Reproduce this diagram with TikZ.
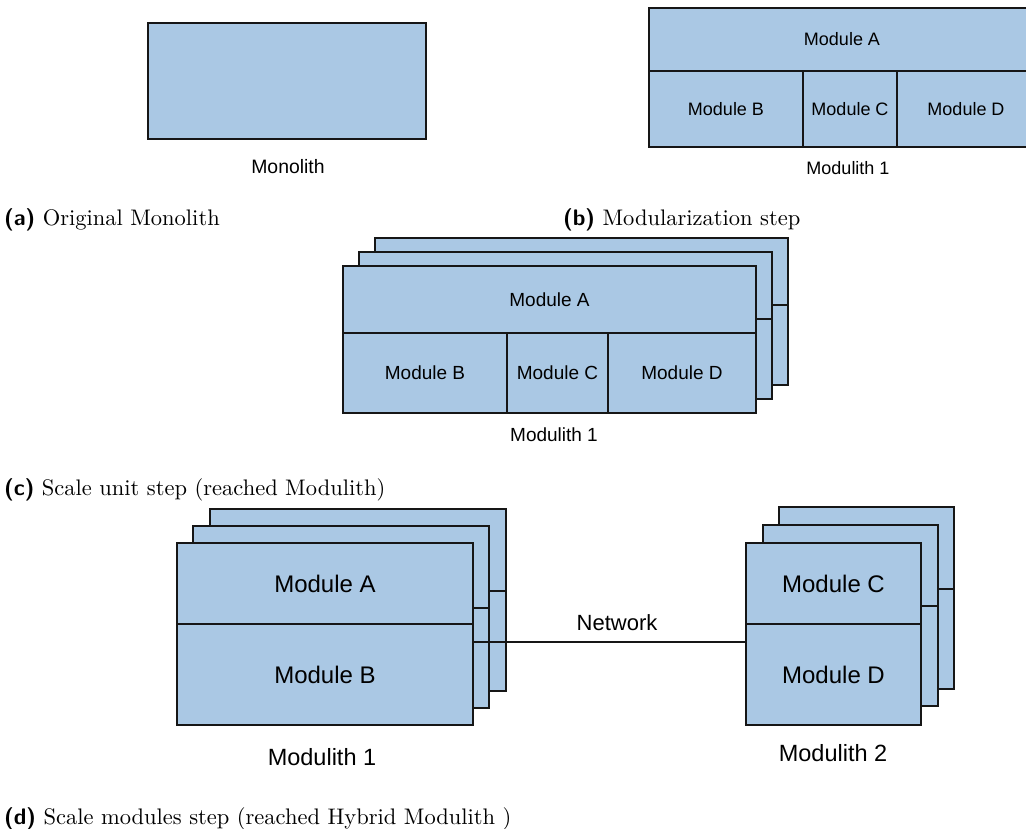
\documentclass[tikz,border=0pt]{standalone}
\usepackage{fontspec}
\usepackage{graphicx}
\newfontfamily\diagfont{Liberation Sans}
\definecolor{modfill}{RGB}{170,200,228}
\definecolor{edgec}{RGB}{22,22,22}
% sub-figure caption: bold sans label, serif text, set at 10pt and enlarged
\newcommand{\subfigcap}[2]{\scalebox{2.25}{\textsf{\textbf{(#1)}} #2}}
\tikzset{
  mod/.style={draw=edgec, fill=modfill, line width=2pt, inner sep=0pt,
              anchor=north west, text=black},
  lbl/.style={inner sep=0pt, text=black},
  net/.style={draw=edgec, line width=1.3pt},
  subcap/.style={inner sep=0pt, anchor=base west, text=black},
  fs/.style={font={\diagfont\fontsize{#1}{#1}\selectfont}},
}
\begin{document}
\begin{tikzpicture}[x=1pt,y=-1pt]
\useasboundingbox (0,0) rectangle (1026,829);

% ---- (a) original monolith
\node[mod, minimum width=278pt, minimum height=116pt] (mono) at (147,22) {};
\node[lbl, fs=19.4] (monolbl) at (288,167) {Monolith};
\node[subcap] (capa) at (4,226) {\subfigcap{a}{Original Monolith}};

% ---- (b) modularization step
\begin{scope}[fs=18]
\node[mod, minimum width=386pt, minimum height=63pt] (bA) at (648,7) {Module A};
\node[mod, minimum width=154pt, minimum height=76pt] (bB) at (648,70) {Module B};
\node[mod, minimum width=94pt, minimum height=76pt] (bC) at (802,70) {Module C};
\node[mod, minimum width=138pt, minimum height=76pt] (bD) at (896,70) {Module D};
\node[lbl] (blbl) at (848,168) {Modulith 1};
\end{scope}
\node[subcap] (capb) at (563,226) {\subfigcap{b}{Modularization step}};

% ---- (c) scale unit step: three stacked copies of the modulith
\begin{scope}[fs=19]
% rear copies
\node[mod, minimum width=413pt, minimum height=67pt] (c3top) at (374,237) {};
\node[mod, minimum width=413pt, minimum height=80pt] (c3bot) at (374,304) {};
\node[mod, minimum width=413pt, minimum height=67pt] (c2top) at (358,251) {};
\node[mod, minimum width=413pt, minimum height=80pt] (c2bot) at (358,318) {};
% front copy
\node[mod, minimum width=413pt, minimum height=67pt] (cA) at (342,265) {Module A};
\node[mod, minimum width=164pt, minimum height=80pt] (cB) at (342,332) {Module B};
\node[mod, minimum width=101pt, minimum height=80pt] (cC) at (506,332) {Module C};
\node[mod, minimum width=148pt, minimum height=80pt] (cD) at (607,332) {Module D};
\node[lbl] (clbl) at (554,435) {Modulith 1};
\end{scope}
\node[subcap] (capc) at (4,495) {\subfigcap{c}{Scale unit step (reached Modulith)}};

% ---- (d) scale modules step: two moduliths, each replicated
\begin{scope}[fs=24]
% Modulith 1, rear copies
\node[mod, minimum width=296pt, minimum height=82pt] (l3top) at (209,508) {};
\node[mod, minimum width=296pt, minimum height=100pt] (l3bot) at (209,590) {};
\node[mod, minimum width=296pt, minimum height=82pt] (l2top) at (192,525) {};
\node[mod, minimum width=296pt, minimum height=100pt] (l2bot) at (192,607) {};
% Modulith 1, front copy
\node[mod, minimum width=296pt, minimum height=81pt] (lA) at (176,542) {Module A};
\node[mod, minimum width=296pt, minimum height=101pt] (lB) at (176,623) {Module B};
\node[lbl, fs=23.5] (llbl) at (322,757) {Modulith 1};

% Modulith 2, rear copies
\node[mod, minimum width=175pt, minimum height=82pt] (r3top) at (778,506) {};
\node[mod, minimum width=175pt, minimum height=100pt] (r3bot) at (778,588) {};
\node[mod, minimum width=175pt, minimum height=81pt] (r2top) at (762,524) {};
\node[mod, minimum width=175pt, minimum height=100pt] (r2bot) at (762,605) {};
% Modulith 2, front copy
\node[mod, minimum width=175pt, minimum height=81pt] (rC) at (745,542) {Module C};
\node[mod, minimum width=175pt, minimum height=101pt] (rD) at (745,623) {Module D};
\node[lbl, fs=23.5] (rlbl) at (833,753) {Modulith 2};
\end{scope}

% network link between the two moduliths
\draw[net] ([yshift=-19pt]lB.north east) -- ([yshift=-19pt]rD.north west);
\node[lbl, fs=22] (netlbl) at (617,623) {Network};

\node[subcap] (capd) at (4,824) {\subfigcap{d}{Scale modules step (reached Hybrid Modulith )}};
\end{tikzpicture}
\end{document}
